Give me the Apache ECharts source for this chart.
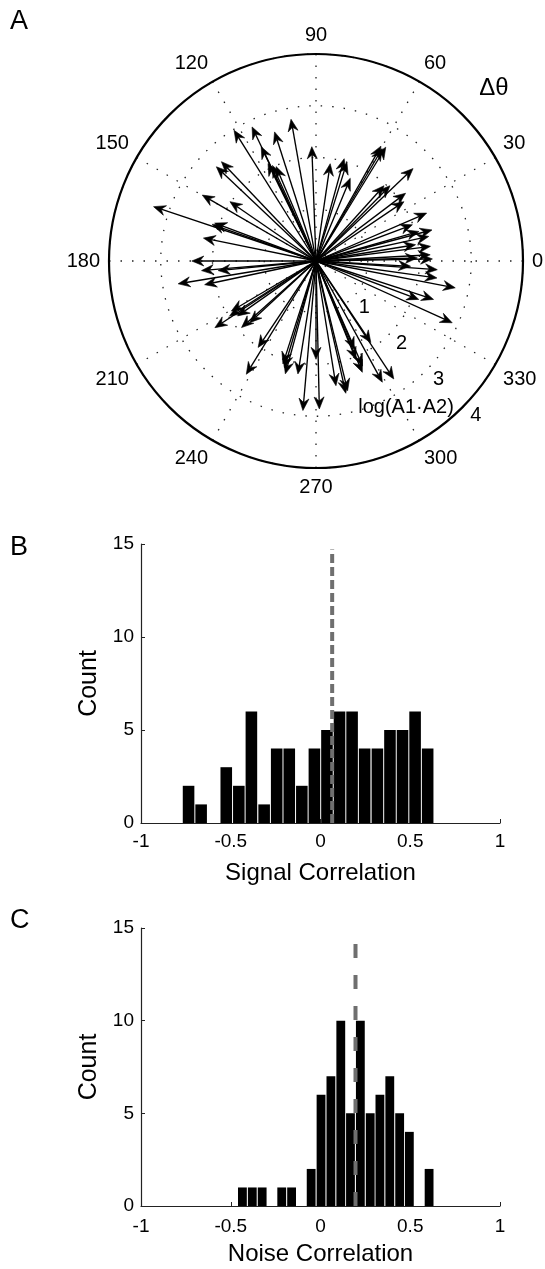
<!DOCTYPE html>
<html><head><meta charset="utf-8">
<script src="https://cdn.jsdelivr.net/npm/echarts@6/dist/echarts.min.js"></script>
<style>html,body{margin:0;padding:0;background:#fff}#c{width:545px;height:1269px}</style>
</head><body><div id="c"></div><script>
// Panel A: compass plot (angle difference in degrees, log amplitude product)
const deltaTheta = [122.1,115.5,107.8,100.0,92.1,115.6,116.2,114.5,112.9,133.6,136.6,149.9,145.4,161.5,159.5,160.6,168.5,180.0,
  81.7,74.6,72.6,67.5,60.5,59.5,58.5,43.6,47.9,45.5,37.1,34.0,23.4,20.6,15.0,16.0,12.3,9.3,7.3,3.1,1.7,1.0,
  184.8,185.6,189.4,192.0,210.6,212.5,215.0,213.4,221.8,222.9,236.2,238.4,252.2,253.5,254.8,260.9,265.0,270.0,271.3,
  356.8,355.9,352.0,349.1,339.5,341.9,335.6,303.9,293.4,292.1,293.9,292.6,298.7,303.4,279.1,283.7,282.7];
const logAmp = [2.98,2.87,2.62,2.78,2.21,2.45,2.10,2.03,1.98,2.65,2.65,2.54,2.02,3.31,2.09,2.13,2.22,2.40,
  1.90,2.05,2.00,1.73,2.55,2.52,2.58,2.59,1.96,2.04,2.17,2.05,2.33,1.99,2.32,2.07,2.23,1.95,2.23,2.21,1.96,2.25,
  2.22,1.90,2.70,2.20,1.90,1.98,1.85,2.34,1.93,1.75,2.01,2.57,2.09,2.15,2.26,2.21,2.90,1.90,2.86,
  1.83,2.35,2.36,2.74,2.12,2.39,2.89,1.90,1.86,2.05,2.22,2.33,2.67,2.73,2.44,2.58,2.62];
const radiusTicks = [1,2,3,4];
const radiusLabelAngle = 316;

// Panel B: signal correlation histogram
const signalBinCenters = [-0.735,-0.665,-0.595,-0.525,-0.455,-0.385,-0.314,-0.244,-0.174,-0.104,-0.034,0.036,0.106,0.176,0.246,0.317,0.387,0.457,0.527,0.597];
const signalCounts = [2,1,0,3,2,6,1,4,4,2,4,5,6,6,4,4,5,5,6,4];
const signalBinWidth = 0.0701;
const signalMean = 0.065;

// Panel C: noise correlation histogram
const noiseBinCenters = [-0.435,-0.380,-0.325,-0.270,-0.216,-0.161,-0.106,-0.052,0.003,0.058,0.113,0.167,0.222,0.277,0.331,0.386,0.441,0.495,0.550,0.605];
const noiseCounts = [1,1,1,0,1,1,0,2,6,7,10,5,10,5,6,7,5,4,0,2];
const noiseBinWidth = 0.0547;
const noiseMean = 0.195;

const meanLineTop = 14.7;
const FONT = "'Liberation Sans', Arial, sans-serif";

function arrowItem(params, api) {
  const r = api.value(0), a = api.value(1);
  const c = api.coord([0, a]);
  const t = api.coord([r, a]);
  const dx = t[0] - c[0], dy = t[1] - c[1];
  const len = Math.sqrt(dx * dx + dy * dy) || 1;
  const ux = dx / len, uy = dy / len;
  const L = 12, W = 5, N = 8;
  const bx = t[0] - ux * L, by = t[1] - uy * L;
  const nx = t[0] - ux * N, ny = t[1] - uy * N;
  return {
    type: 'group', children: [
      { type: 'line', shape: { x1: c[0], y1: c[1], x2: nx, y2: ny }, style: { stroke: '#000', lineWidth: 1.35 } },
      { type: 'polygon', shape: { points: [[t[0], t[1]], [bx - uy * W, by + ux * W], [nx, ny], [bx + uy * W, by - ux * W]] }, style: { fill: '#000', stroke: '#000', lineWidth: 0.6 } }
    ]
  };
}

function radiusLabelItem(params, api) {
  const p = api.coord([api.value(0), api.value(1)]);
  return {
    type: 'text', x: p[0] + 11, y: p[1] + 11,
    style: { text: String(radiusTicks[params.dataIndex]), fontSize: 20, fill: '#000', fontFamily: FONT, align: 'center', verticalAlign: 'middle' }
  };
}

function histItem(binW) {
  return function (params, api) {
    const cx = api.value(0), n = api.value(1);
    if (!n) return null;
    const p0 = api.coord([cx - binW / 2, 0]);
    const p1 = api.coord([cx + binW / 2, n]);
    return {
      type: 'rect',
      shape: { x: p0[0] + 0.5, y: p1[1], width: p1[0] - p0[0] - 1, height: p0[1] - p1[1] },
      style: { fill: '#000' }
    };
  };
}

const dotted = { color: '#222', width: 1.3, type: [1.5, 10] };

function xAxisFor(gridIndex, name, nameGap, margin) {
  return {
    gridIndex, type: 'value', min: -1, max: 1, interval: 0.5,
    name, nameLocation: 'middle', nameGap,
    nameTextStyle: { fontSize: 24, color: '#000', fontFamily: FONT },
    axisLine: { show: true, onZero: false, lineStyle: { color: '#222', width: 1.2 } },
    axisTick: { show: true, inside: true, length: 4, lineStyle: { color: '#222' } },
    axisLabel: { fontSize: 19, color: '#000', fontFamily: FONT, margin },
    splitLine: { show: false }
  };
}
function yAxisFor(gridIndex) {
  return {
    gridIndex, type: 'value', min: 0, max: 15, interval: 5,
    name: 'Count', nameLocation: 'middle', nameGap: 38,
    nameTextStyle: { fontSize: 25, color: '#000', fontFamily: FONT },
    axisLine: { show: true, onZero: false, lineStyle: { color: '#222', width: 1.2 } },
    axisTick: { show: true, inside: true, length: 4, lineStyle: { color: '#222' } },
    axisLabel: { fontSize: 19, color: '#000', fontFamily: FONT, margin: 7 },
    splitLine: { show: false }
  };
}

const chart = echarts.init(document.getElementById('c'), null, { renderer: 'canvas' });
chart.setOption({
  animation: false,
  backgroundColor: '#fff',
  textStyle: { fontFamily: FONT },
  polar: { center: [316, 261], radius: 207 },
  angleAxis: {
    type: 'value', min: 0, max: 360, interval: 30, startAngle: 0, clockwise: false,
    axisLine: { show: true, lineStyle: { color: '#000', width: 2.2 } },
    axisTick: { show: false },
    axisLabel: { show: true, fontSize: 20, color: '#000', fontFamily: FONT, margin: 9,
      formatter: v => (v === 360 ? '' : String(v)) },
    splitLine: { show: true, lineStyle: dotted }
  },
  radiusAxis: {
    type: 'value', min: 0, max: 4, interval: 1,
    axisLine: { show: false }, axisTick: { show: false }, axisLabel: { show: false },
    splitLine: { show: true, lineStyle: dotted }
  },
  grid: [
    { left: 141, top: 544, width: 359, height: 279, containLabel: false, outerBoundsMode: 'none' },
    { left: 141, top: 928, width: 359, height: 278, containLabel: false, outerBoundsMode: 'none' }
  ],
  xAxis: [xAxisFor(0, 'Signal Correlation', 38, 9), xAxisFor(1, 'Noise Correlation', 36, 11)],
  yAxis: [yAxisFor(0), yAxisFor(1)],
  series: [
    {
      type: 'custom', coordinateSystem: 'polar', polarIndex: 0, z: 5,
      encode: { radius: 0, angle: 1 },
      data: deltaTheta.map((a, i) => [logAmp[i], a]),
      renderItem: arrowItem
    },
    {
      type: 'custom', coordinateSystem: 'polar', polarIndex: 0, z: 6,
      encode: { radius: 0, angle: 1 },
      data: radiusTicks.map(r => [r, radiusLabelAngle]),
      renderItem: radiusLabelItem
    },
    {
      type: 'custom', coordinateSystem: 'cartesian2d', xAxisIndex: 0, yAxisIndex: 0,
      encode: { x: 0, y: 1 },
      data: signalBinCenters.map((c, i) => [c, signalCounts[i]]),
      renderItem: histItem(signalBinWidth), z: 2
    },
    {
      type: 'line', xAxisIndex: 0, yAxisIndex: 0, symbol: 'none', z: 4,
      data: [[signalMean, 0], [signalMean, meanLineTop]],
      lineStyle: { color: '#6f6f6f', width: 4, type: [9, 4] }
    },
    {
      type: 'custom', coordinateSystem: 'cartesian2d', xAxisIndex: 1, yAxisIndex: 1,
      encode: { x: 0, y: 1 },
      data: noiseBinCenters.map((c, i) => [c, noiseCounts[i]]),
      renderItem: histItem(noiseBinWidth), z: 2
    },
    {
      type: 'line', xAxisIndex: 1, yAxisIndex: 1, symbol: 'none', z: 4,
      data: [[noiseMean, 0], [noiseMean, meanLineTop]],
      lineStyle: { color: '#6f6f6f', width: 4, type: [14, 17] }
    }
  ],
  graphic: [
    { type: 'text', left: 10, top: 8, style: { text: 'A', fontSize: 27, fill: '#000', fontFamily: FONT } },
    { type: 'text', left: 10, top: 534, style: { text: 'B', fontSize: 27, fill: '#000', fontFamily: FONT } },
    { type: 'text', left: 10, top: 907, style: { text: 'C', fontSize: 27, fill: '#000', fontFamily: FONT } },
    { type: 'text', x: 494, y: 88, style: { text: 'Δθ', fontSize: 24, fill: '#000', fontFamily: FONT, align: 'center', verticalAlign: 'middle' } },
    { type: 'text', x: 406, y: 407, style: { text: 'log(A1·A2)', fontSize: 20, fill: '#000', fontFamily: FONT, align: 'center', verticalAlign: 'middle' } }
  ]
});
</script></body></html>
